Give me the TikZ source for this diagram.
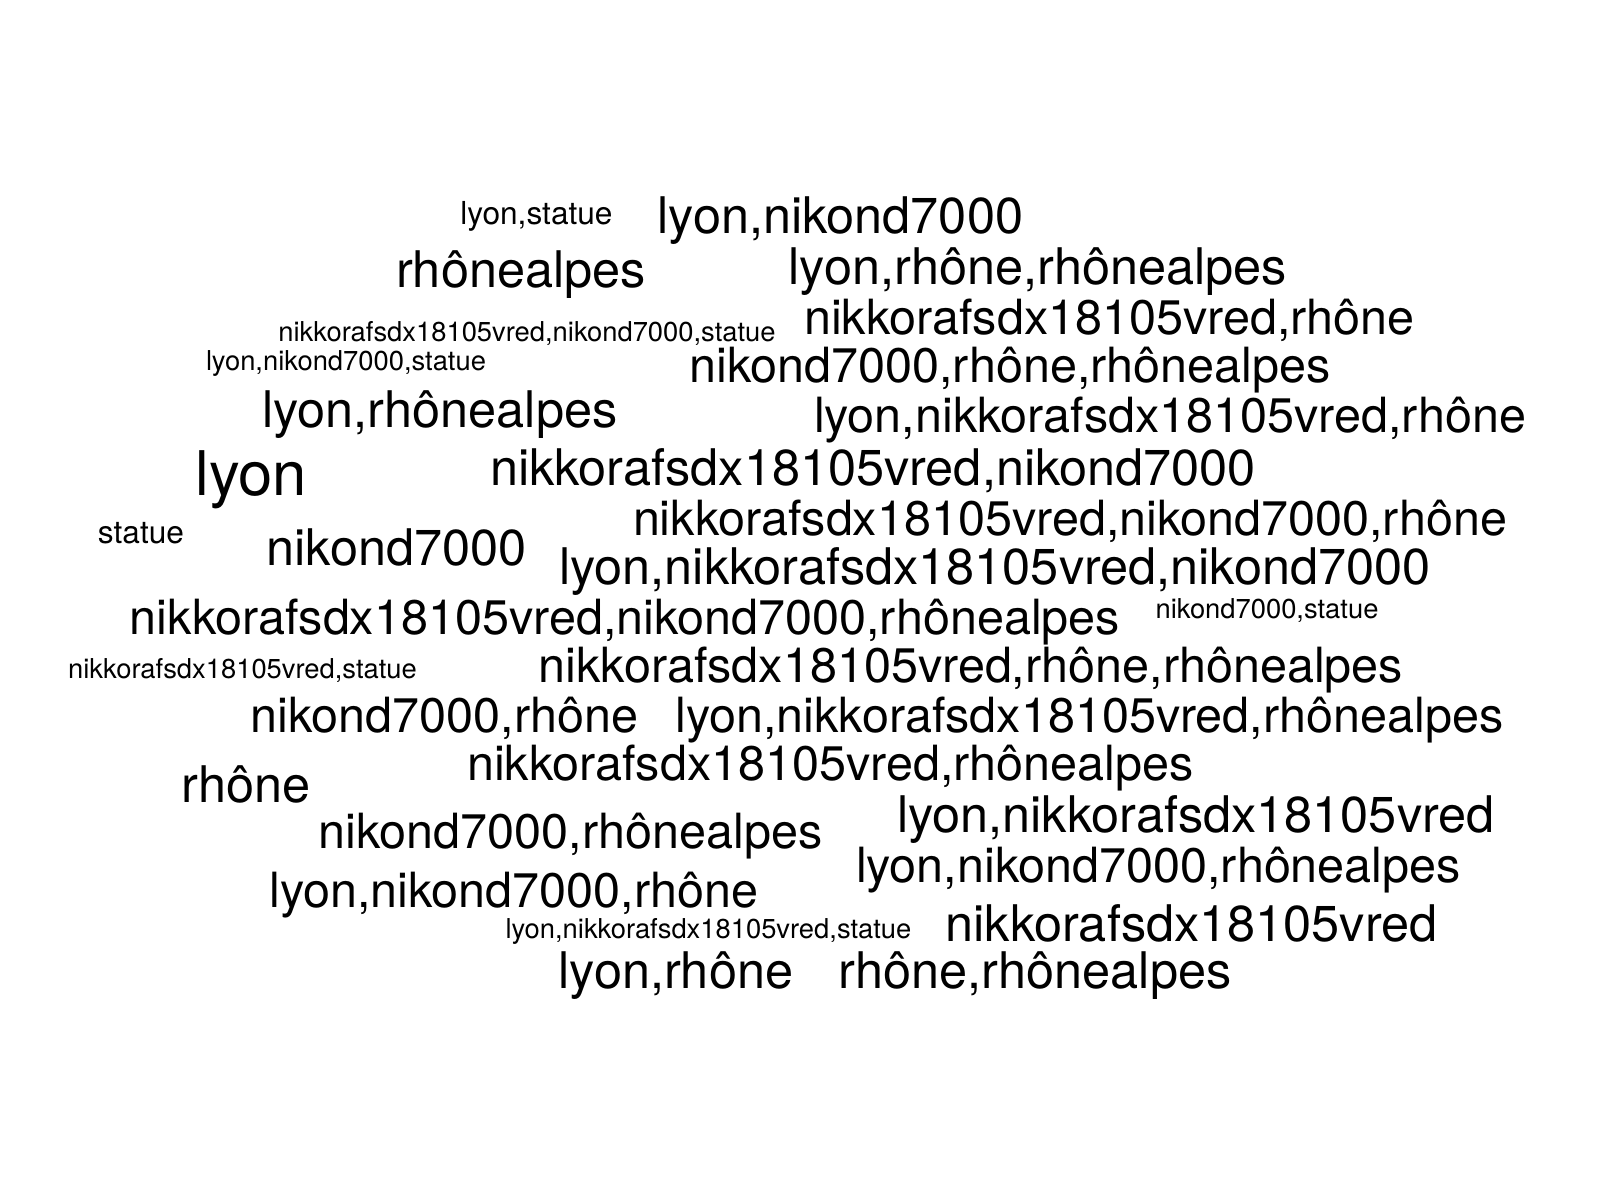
\documentclass[tikz,border=0pt]{standalone}
\usepackage{fontspec}
\setmainfont{TeX Gyre Heros}
\usepackage{tikz}
\usetikzlibrary{positioning}
\tikzstyle{word} = [anchor=base, inner sep=0pt, outer sep=0pt, text=black]
\tikzstyle{wordxs} = [word, font=\fontsize{7.78}{9}\selectfont]
\tikzstyle{words} = [word, font=\fontsize{9.0}{10}\selectfont]
\tikzstyle{wordm} = [word, font=\fontsize{13.8}{16}\selectfont]
\tikzstyle{wordl} = [word, font=\fontsize{14.35}{16}\selectfont]
\tikzstyle{wordxl} = [word, font=\fontsize{17.5}{19}\selectfont]
\begin{document}
\begin{tikzpicture}[x=0.01cm, y=-0.01cm]
  \useasboundingbox (0,0) rectangle (1600,1200);
  % Place words, top to bottom
  \node [words] (lyonstatue) at (536.5,224) {lyon,statue};
  \node [wordl] (lyonnikon) at (840.5,233) {lyon,nikond7000};
  \node [wordl] (alpes) at (521,287) {rhônealpes};
  \node [wordl] (lyonrhonealpes) at (1038,284) {lyon,rhône,rhônealpes};
  \node [wordxs] (nikkornikonstatue) at (527,341) {nikkorafsdx18105vred,nikond7000,statue};
  \node [wordm] (nikkorrhone) at (1109.5,334) {nikkorafsdx18105vred,rhône};
  \node [wordxs] (lyonnikonstatue) at (346,370) {lyon,nikond7000,statue};
  \node [wordm] (nikonrhonealpes) at (1010,382) {nikond7000,rhône,rhônealpes};
  \node [wordl] (lyonalpes) at (440,427) {lyon,rhônealpes};
  \node [wordm] (lyonnikkorrhone) at (1170,432) {lyon,nikkorafsdx18105vred,rhône};
  \node [wordxl] (lyon) at (251.5,495) {lyon};
  \node [wordl] (nikkornikon) at (873,485) {nikkorafsdx18105vred,nikond7000};
  \node [words] (statue) at (141,543) {statue};
  \node [wordl] (nikon) at (396.5,565) {nikond7000};
  \node [wordm] (nikkornikonrhone) at (1070,535) {nikkorafsdx18105vred,nikond7000,rhône};
  \node [wordl] (lyonnikkornikon) at (995,584) {lyon,nikkorafsdx18105vred,nikond7000};
  \node [wordm] (nikkornikonalpes) at (625,634) {nikkorafsdx18105vred,nikond7000,rhônealpes};
  \node [wordxs] (nikonstatue) at (1267,618) {nikond7000,statue};
  \node [wordxs] (nikkorstatue) at (242.5,678) {nikkorafsdx18105vred,statue};
  \node [wordm] (nikkorrhonealpes) at (971,682) {nikkorafsdx18105vred,rhône,rhônealpes};
  \node [wordm] (nikonrhone) at (444.5,732) {nikond7000,rhône};
  \node [wordm] (lyonnikkoralpes) at (1089.5,732) {lyon,nikkorafsdx18105vred,rhônealpes};
  \node [wordm] (nikkoralpes) at (830.5,780) {nikkorafsdx18105vred,rhônealpes};
  \node [wordl] (rhone) at (246,802) {rhône};
  \node [wordl] (lyonnikkor) at (1196,832) {lyon,nikkorafsdx18105vred};
  \node [wordm] (nikonalpes) at (570.5,848) {nikond7000,rhônealpes};
  \node [wordm] (lyonnikonalpes) at (1158.5,882) {lyon,nikond7000,rhônealpes};
  \node [wordm] (lyonnikonrhone) at (514,907) {lyon,nikond7000,rhône};
  \node [wordxs] (lyonnikkorstatue) at (708.5,938) {lyon,nikkorafsdx18105vred,statue};
  \node [wordl] (nikkor) at (1191.5,941) {nikkorafsdx18105vred};
  \node [wordl] (lyonrhone) at (676,988) {lyon,rhône};
  \node [wordl] (rhonealpes) at (1035,988) {rhône,rhônealpes};
\end{tikzpicture}
\end{document}
